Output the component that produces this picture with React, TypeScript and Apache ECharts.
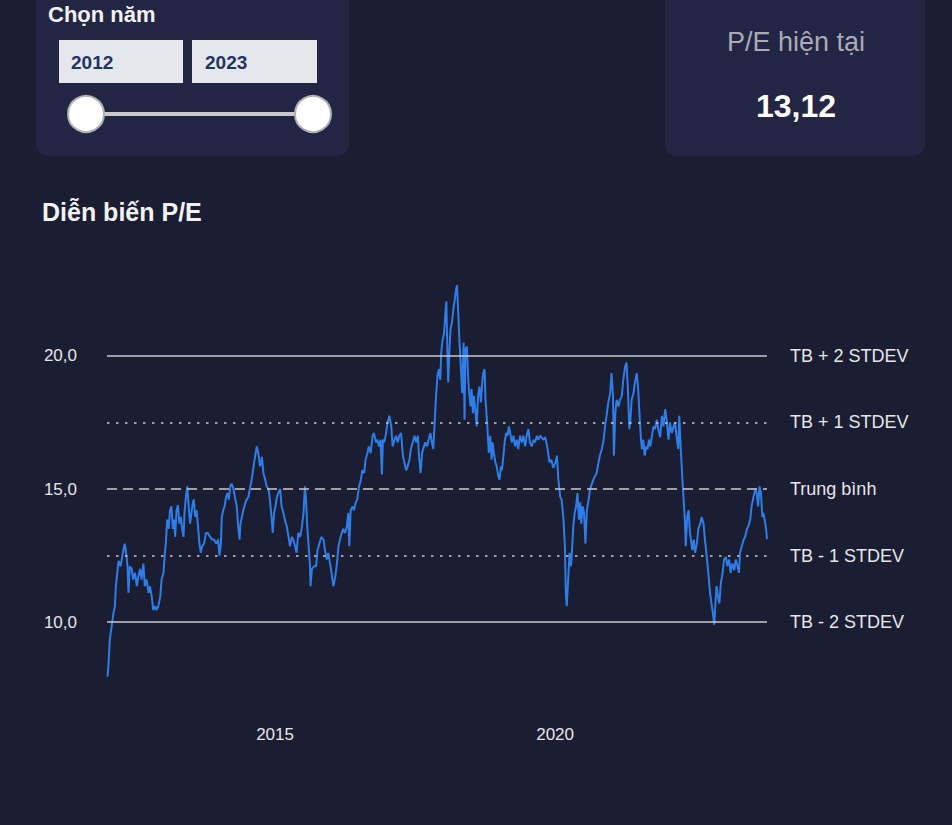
import React, { useEffect, useRef } from "react";
import * as echarts from "echarts";

// P/E history: [months since Jan 2012, P/E]
const peHistory: [number, number][] = [
  [0.1, 7.95], [0.3, 8.35], [0.6, 9.35], [1.0, 9.85], [1.4, 10.35], [1.7, 10.6], [1.9, 11.35], [2.2, 11.85],
  [2.5, 12.3], [2.9, 12.1], [3.4, 12.6], [3.8, 12.95], [4.1, 12.6], [4.4, 12.1], [4.6, 11.1], [4.9, 12.1],
  [5.3, 12.0], [5.6, 11.6], [6.0, 11.85], [6.4, 11.35], [6.7, 11.7], [7.1, 12.0], [7.4, 11.6], [7.8, 12.2],
  [8.1, 11.35], [8.5, 11.6], [8.9, 11.1], [9.2, 11.35], [9.6, 10.95], [9.9, 10.45], [10.3, 10.6], [10.6, 10.45],
  [11.0, 10.6], [11.4, 10.95], [11.7, 11.6], [12.1, 11.85], [12.4, 12.6], [12.6, 12.95], [12.9, 13.85], [13.2, 13.5],
  [13.5, 14.2], [13.8, 14.35], [14.1, 13.5], [14.4, 13.85], [14.6, 13.2], [14.9, 14.2], [15.2, 14.4], [15.5, 13.7],
  [15.8, 13.95], [16.1, 13.5], [16.4, 13.2], [16.6, 14.1], [16.9, 14.7], [17.2, 15.1], [17.5, 14.35], [17.8, 13.7],
  [18.1, 14.1], [18.4, 14.5], [18.6, 14.6], [18.9, 13.95], [19.2, 14.2], [19.5, 13.6], [19.8, 12.95], [20.1, 12.6],
  [20.4, 12.85], [20.8, 12.95], [21.2, 13.35], [21.6, 13.35], [22.1, 13.2], [22.5, 13.1], [22.9, 13.1], [23.4, 12.95],
  [23.8, 13.1], [24.1, 12.5], [24.4, 12.95], [24.6, 13.95], [24.9, 14.2], [25.2, 14.35], [25.5, 14.7], [25.8, 14.85],
  [26.1, 14.6], [26.4, 15.1], [26.7, 15.2], [27.1, 15.0], [27.4, 14.7], [27.8, 14.35], [28.1, 13.6], [28.4, 13.1],
  [28.6, 13.7], [28.9, 13.95], [29.2, 14.2], [29.6, 14.45], [29.9, 14.6], [30.3, 14.7], [30.6, 15.0], [31.0, 15.35],
  [31.4, 15.85], [31.7, 16.2], [32.1, 16.6], [32.4, 16.35], [32.8, 15.85], [33.2, 16.2], [33.5, 15.6], [33.9, 15.35],
  [34.2, 15.1], [34.6, 15.0], [34.9, 14.6], [35.3, 13.85], [35.5, 13.35], [35.8, 14.1], [36.1, 14.35], [36.4, 14.7],
  [36.7, 14.85], [37.1, 15.0], [37.4, 14.35], [37.8, 14.1], [38.1, 13.85], [38.5, 13.6], [38.9, 13.2], [39.2, 12.85],
  [39.6, 13.2], [39.9, 13.1], [40.3, 12.85], [40.6, 12.6], [41.0, 13.35], [41.4, 13.2], [41.7, 13.5], [42.1, 14.1],
  [42.4, 15.1], [42.6, 14.7], [42.9, 13.6], [43.2, 12.85], [43.5, 12.1], [43.6, 11.35], [43.9, 12.0], [44.4, 12.1],
  [44.8, 12.1], [45.1, 12.7], [45.5, 12.95], [45.9, 13.2], [46.4, 13.1], [46.7, 12.7], [47.1, 12.35], [47.4, 12.6],
  [47.8, 12.2], [48.1, 11.85], [48.5, 11.35], [48.9, 11.7], [49.2, 12.1], [49.6, 12.85], [49.9, 13.1], [50.3, 13.35],
  [50.6, 13.5], [51.0, 13.35], [51.4, 13.6], [51.7, 14.1], [51.9, 12.85], [52.2, 14.2], [52.6, 14.35], [52.9, 14.2],
  [53.3, 14.5], [53.6, 14.6], [54.0, 15.1], [54.4, 15.35], [54.7, 15.7], [55.1, 15.6], [55.4, 16.1], [55.8, 16.35],
  [56.1, 16.6], [56.5, 16.35], [56.9, 17.0], [57.2, 17.1], [57.6, 16.75], [57.9, 16.85], [58.3, 16.6], [58.6, 16.85],
  [58.9, 15.55], [59.1, 16.85], [59.4, 16.75], [59.8, 17.1], [60.1, 17.5], [60.5, 17.75], [60.9, 17.35], [61.2, 16.6],
  [61.6, 16.85], [61.9, 17.0], [62.3, 16.75], [62.6, 17.0], [63.0, 17.1], [63.4, 16.25], [63.7, 16.0], [64.1, 15.7],
  [64.4, 15.85], [64.8, 16.1], [65.1, 16.5], [65.5, 16.75], [65.9, 17.0], [66.2, 16.75], [66.6, 17.0], [66.9, 16.1],
  [67.2, 15.6], [67.5, 16.35], [67.9, 16.6], [68.2, 16.75], [68.6, 16.6], [68.9, 16.85], [69.3, 17.1], [69.6, 16.75],
  [69.9, 16.5], [70.2, 17.5], [70.5, 18.5], [70.8, 19.25], [71.1, 19.5], [71.4, 19.1], [71.6, 20.1], [71.9, 20.6],
  [72.2, 20.85], [72.5, 21.6], [72.7, 22.05], [72.9, 20.35], [73.1, 19.0], [73.4, 20.35], [73.6, 21.0], [73.9, 21.25],
  [74.2, 21.75], [74.5, 22.1], [74.8, 22.5], [75.0, 22.65], [75.2, 21.85], [75.5, 20.6], [75.8, 19.6], [76.1, 18.6],
  [76.4, 20.5], [76.6, 17.6], [76.8, 20.25], [77.1, 20.35], [77.4, 19.1], [77.6, 18.6], [77.9, 18.1], [78.1, 18.75],
  [78.4, 17.85], [78.6, 18.5], [78.9, 18.0], [79.2, 17.35], [79.5, 18.5], [79.8, 18.85], [80.1, 18.25], [80.4, 19.0],
  [80.6, 19.35], [80.9, 19.5], [81.1, 18.35], [81.4, 17.6], [81.6, 17.0], [81.8, 16.35], [82.1, 17.0], [82.4, 16.1],
  [82.6, 16.75], [82.9, 16.35], [83.2, 16.0], [83.5, 15.85], [83.8, 15.5], [84.1, 15.35], [84.4, 15.85], [84.6, 15.7],
  [84.9, 16.2], [85.2, 16.75], [85.5, 17.1], [85.8, 17.0], [86.1, 17.35], [86.4, 17.1], [86.7, 16.75], [87.1, 17.0],
  [87.4, 16.6], [87.8, 16.85], [88.1, 16.5], [88.5, 17.0], [88.9, 16.75], [89.2, 17.0], [89.6, 16.6], [89.9, 17.0],
  [90.3, 17.25], [90.6, 16.75], [91.0, 16.6], [91.4, 16.85], [91.7, 16.75], [92.1, 17.0], [92.4, 16.85], [92.8, 17.0],
  [93.5, 16.85], [93.9, 16.95], [94.4, 16.5], [94.8, 16.0], [95.2, 16.1], [95.6, 15.8], [96.1, 16.0], [96.4, 16.25],
  [96.7, 15.35], [97.1, 14.7], [97.4, 14.6], [97.8, 13.85], [98.1, 12.85], [98.3, 11.1], [98.5, 10.6], [98.8, 11.6],
  [99.1, 12.6], [99.4, 12.1], [99.6, 12.6], [99.9, 13.6], [100.2, 14.1], [100.5, 14.35], [100.8, 14.85], [101.1, 13.85],
  [101.4, 14.5], [101.6, 13.7], [101.9, 14.35], [102.2, 14.1], [102.5, 12.95], [102.8, 14.2], [103.1, 14.5], [103.5, 15.0],
  [103.9, 15.2], [104.2, 15.35], [104.6, 15.5], [104.9, 15.6], [105.3, 16.0], [105.6, 16.25], [106.0, 16.5], [106.4, 16.85],
  [106.7, 17.35], [107.1, 17.85], [107.4, 18.25], [107.8, 18.6], [108.1, 19.35], [108.4, 18.5], [108.6, 16.25], [108.9, 17.85],
  [109.2, 18.35], [109.6, 18.1], [109.9, 18.35], [110.3, 18.5], [110.6, 19.1], [111.0, 19.6], [111.3, 19.75], [111.6, 18.75],
  [111.9, 17.25], [112.1, 17.5], [112.4, 18.35], [112.8, 18.6], [113.1, 19.0], [113.5, 19.35], [113.8, 18.75], [114.1, 17.75],
  [114.4, 16.85], [114.6, 16.5], [114.9, 16.85], [115.2, 16.25], [115.5, 16.6], [115.8, 16.5], [116.1, 16.85], [116.4, 16.6],
  [116.7, 16.95], [117.1, 17.35], [117.4, 17.25], [117.8, 17.6], [118.1, 17.25], [118.5, 16.95], [118.9, 17.75], [119.2, 17.35],
  [119.6, 18.0], [119.9, 17.6], [120.3, 16.85], [120.6, 17.5], [121.0, 17.1], [121.4, 17.35], [121.7, 17.5], [122.1, 16.85],
  [122.4, 16.5], [122.6, 17.75], [122.9, 16.6], [123.2, 15.6], [123.5, 14.7], [123.8, 13.85], [124.0, 12.85], [124.3, 13.95],
  [124.6, 14.2], [124.9, 13.35], [125.1, 13.1], [125.4, 12.7], [125.7, 13.1], [126.0, 12.6], [126.4, 13.0], [126.7, 13.5],
  [127.1, 13.7], [127.4, 13.95], [127.8, 13.7], [128.1, 13.1], [128.5, 12.45], [128.9, 11.7], [129.2, 11.1], [129.5, 10.7],
  [129.8, 10.35], [130.1, 9.9], [130.4, 10.85], [130.6, 11.35], [130.9, 10.95], [131.2, 10.7], [131.5, 11.45], [131.9, 11.85],
  [132.2, 12.35], [132.6, 12.45], [132.9, 12.1], [133.3, 12.35], [133.6, 11.85], [134.0, 12.2], [134.4, 11.95], [134.7, 12.35],
  [135.1, 12.1], [135.4, 11.85], [135.6, 12.6], [136.0, 12.85], [136.4, 13.1], [136.7, 13.2], [137.1, 13.5], [137.4, 13.6],
  [137.8, 13.85], [138.1, 14.35], [138.5, 14.7], [138.9, 15.0], [139.2, 14.85], [139.5, 14.35], [139.8, 15.1], [140.1, 14.85],
  [140.4, 13.95], [140.6, 14.1], [140.9, 13.85], [141.2, 13.5], [141.4, 13.12],
];

const startYear = 2012;
const yearRange = ["2012", "2023"];
const currentPE = "13,12";
const xTickYears = [2015, 2020];
const yTickValues = [10, 15, 20];
const refLevels = [20, 17.5, 15, 12.5, 10];
const refNames = ["TB + 2 STDEV", "TB + 1 STDEV", "Trung bình", "TB - 1 STDEV", "TB - 2 STDEV"];
const refStyles: any[] = ["solid", [2.5, 6.5], [10, 6], [2.5, 6.5], "solid"];

const FONT = "'Liberation Sans', Arial, Helvetica, sans-serif";
const BG = "#1b1d32";
const PANEL = "#222544";

export default function App() {
  const ref = useRef<HTMLDivElement>(null);

  useEffect(() => {
    document.body.style.margin = "0";
    document.body.style.background = BG;
    const chart = echarts.init(ref.current!, null, { renderer: "svg" });
    const lastMonth = peHistory[peHistory.length - 1][0];

    chart.setOption({
      animation: false,
      backgroundColor: BG,
      textStyle: { fontFamily: FONT },
      grid: { left: 107, right: 952 - 767, top: 276, bottom: 123, containLabel: false },
      xAxis: {
        type: "value",
        min: 0,
        max: lastMonth,
        interval: 12,
        axisLine: { show: false },
        axisTick: { show: false },
        splitLine: { show: false },
        axisLabel: {
          margin: 24,
          color: "#e6e6ea",
          fontSize: 17,
          fontFamily: FONT,
          showMaxLabel: false,
          formatter: (v: number) => {
            const y = startYear + v / 12;
            return xTickYears.includes(y) ? String(y) : "";
          },
        },
      },
      yAxis: {
        type: "value",
        min: 7,
        max: 23,
        interval: 1,
        axisLine: { show: false },
        axisTick: { show: false },
        splitLine: { show: false },
        axisLabel: {
          margin: 30,
          color: "#e6e6ea",
          fontSize: 17,
          fontFamily: FONT,
          formatter: (v: number) => (yTickValues.includes(v) ? v.toFixed(1).replace(".", ",") : ""),
        },
      },
      series: [
        {
          type: "line",
          data: peHistory,
          showSymbol: false,
          symbol: "none",
          lineStyle: { color: "#2f7de6", width: 2 },
          z: 3,
          markLine: {
            silent: true,
            symbol: ["none", "none"],
            animation: false,
            lineStyle: { color: "#c9c9cf", width: 1.5 },
            label: {
              show: true,
              position: "end",
              distance: 23,
              color: "#e6e6ea",
              fontSize: 18,
              fontFamily: FONT,
              formatter: "{b}",
            },
            data: refLevels.map((lv, i) => ({
              name: refNames[i],
              yAxis: lv,
              lineStyle: { type: refStyles[i], color: "#c9c9cf", width: 1.5 },
            })),
          },
        },
      ],
      graphic: [
        { type: "rect", shape: { x: 36, y: -20, width: 313, height: 176, r: 12 }, style: { fill: PANEL } },
        {
          type: "text",
          x: 48,
          y: 14,
          style: { text: "Chọn năm", fill: "#f2f2f5", font: `bold 22px ${FONT}`, textVerticalAlign: "middle" },
        },
        { type: "rect", shape: { x: 59, y: 40, width: 124, height: 43 }, style: { fill: "#e6e7ec" } },
        { type: "rect", shape: { x: 192, y: 40, width: 125, height: 43 }, style: { fill: "#e6e7ec" } },
        {
          type: "text",
          x: 71,
          y: 62,
          style: { text: yearRange[0], fill: "#1f3466", font: `bold 19px ${FONT}`, textVerticalAlign: "middle" },
        },
        {
          type: "text",
          x: 205,
          y: 62,
          style: { text: yearRange[1], fill: "#1f3466", font: `bold 19px ${FONT}`, textVerticalAlign: "middle" },
        },
        { type: "rect", shape: { x: 86, y: 112, width: 227, height: 4 }, style: { fill: "#c9c9cc" } },
        { type: "circle", shape: { cx: 86, cy: 114, r: 18 }, style: { fill: "#ffffff", stroke: "#b0b0b4", lineWidth: 2 } },
        { type: "circle", shape: { cx: 313, cy: 114, r: 18 }, style: { fill: "#ffffff", stroke: "#b0b0b4", lineWidth: 2 } },
        { type: "rect", shape: { x: 665, y: -20, width: 260, height: 176, r: 12 }, style: { fill: PANEL } },
        {
          type: "text",
          x: 796,
          y: 42,
          style: {
            text: "P/E hiện tại",
            fill: "#a9abb5",
            font: `27px ${FONT}`,
            textAlign: "center",
            textVerticalAlign: "middle",
          },
        },
        {
          type: "text",
          x: 796,
          y: 106,
          style: {
            text: currentPE,
            fill: "#ffffff",
            font: `bold 32px ${FONT}`,
            textAlign: "center",
            textVerticalAlign: "middle",
          },
        },
        {
          type: "text",
          x: 42,
          y: 212,
          style: { text: "Diễn biến P/E", fill: "#f2f2f5", font: `bold 25px ${FONT}`, textVerticalAlign: "middle" },
        },
      ],
    });

    return () => chart.dispose();
  }, []);

  return (
    <div
      ref={ref}
      style={{ position: "fixed", left: 0, top: 0, width: 952, height: 825, background: BG }}
    />
  );
}
